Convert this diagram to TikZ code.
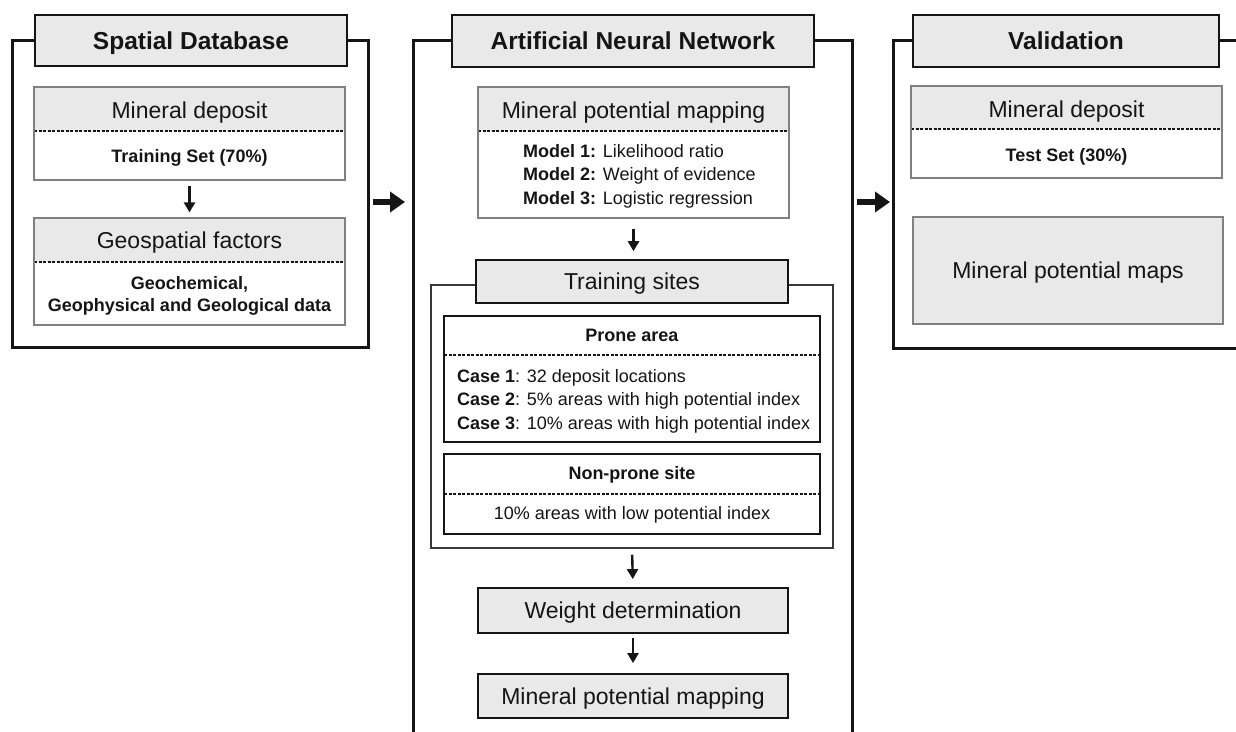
\documentclass[tikz,border=0pt]{standalone}
\usepackage{fontspec}
\setmainfont{Liberation Sans}
\usetikzlibrary{arrows.meta,fit}
\definecolor{boxgray}{HTML}{E9E9E9}
\definecolor{edgegray}{HTML}{808080}
\definecolor{ink}{HTML}{151515}
\newcommand\dualbox[8]{% name, style, x1, y1, x2, y2, ydash, topfill
  \fill[white] (#3,#4) rectangle (#5,#6);
  \fill[#8] (#3,#4) rectangle (#5,#7);
  \draw[sepline] (#3,#7) -- (#5,#7);
  \node[#2, fit={(#3,#4) (#5,#6)}] (#1) {};}
\begin{document}
\begin{tikzpicture}[x=1pt,y=-1pt,
  frame/.style={draw=ink, line width=3pt, inner sep=0pt},
  subframe/.style={draw=ink!85, line width=1.5pt, inner sep=0pt},
  titlebox/.style={draw=ink, line width=2.5pt, fill=boxgray, inner sep=0pt},
  thinbox/.style={draw=edgegray, line width=1.2pt, inner sep=0pt},
  darkbox/.style={draw=ink, line width=1.8pt, inner sep=0pt},
  graybox/.style={draw=ink, line width=1.8pt, fill=boxgray, inner sep=0pt},
  sepline/.style={ink, line width=1.4pt, dash pattern=on 3pt off 1.5pt},
  ttl/.style={font=\fontsize{24.5}{28}\selectfont\bfseries, text=ink, inner sep=0pt, text height=17.5pt, text depth=0pt},
  head/.style={font=\fontsize{23}{27}\selectfont, text=ink, inner sep=0pt, text height=16.5pt, text depth=0pt},
  small/.style={font=\fontsize{18}{23.5}\selectfont, text=ink, inner sep=0pt},
  smallc/.style={small, text height=12.9pt, text depth=0pt},
  arr/.style={draw=ink, line width=2.4pt, -{Triangle[length=10pt,width=11pt]}},
  bigarr/.style={draw=ink, line width=6pt, -{Triangle[length=15pt,width=20pt]}}
]
\useasboundingbox (0,0) rectangle (1236,731);
\clip (0,0) rectangle (1236,731);
\fill[white] (0,0) rectangle (1236,731);

% ---------------- Left panel ----------------
\node[frame, fit={(12,40) (368,347)}] (sdF) {};
\node[titlebox, fit={(35,15) (347,66)}] (sdT) {};
\node[ttl] (sdTt) at (sdT.center) {Spatial Database};

\dualbox{md1}{thinbox}{34}{87}{345}{180}{131}{boxgray}
\node[head] (md1t) at (189.5,110) {Mineral deposit};
\node[smallc, font=\fontsize{18}{23.5}\selectfont\bfseries] (md1s) at (189.5,156) {Training Set (70\%)};

\dualbox{gf}{thinbox}{34}{218}{345}{325}{262}{boxgray}
\node[head] (gft) at (189.5,240) {Geospatial factors};
\node[small, font=\fontsize{18}{22}\selectfont\bfseries, align=center, anchor=base] (gfs) at (189.5,311.4) {Geochemical,\\Geophysical and Geological data};

\draw[arr, shorten <=5pt, shorten >=5pt] (md1.south) -- (gf.north);

% ---------------- Middle panel ----------------
\node[frame, fit={(413,40) (852,760)}] (annF) {};
\node[titlebox, fit={(452,15) (814,67)}] (annT) {};
\node[ttl] (annTt) at (annT.center) {Artificial Neural Network};

\dualbox{mpm}{thinbox}{478}{87}{789}{218}{131}{boxgray}
\node[head] (mpmt) at (633.5,110) {Mineral potential mapping};
\node[small, align=left, anchor=base west] (mpms) at (523,204.4)
  {\textbf{Model 1:} Likelihood ratio\\\textbf{Model 2:} Weight of evidence\\\textbf{Model 3:} Logistic regression};

\node[subframe, fit={(431,285) (833,548)}] (tsF) {};
\node[graybox, line width=1.6pt, fit={(476,260) (788,303)}] (tsT) {};
\node[head] (tsTt) at (tsT.center) {Training sites};

\draw[arr, shorten <=10pt, shorten >=8pt] (mpm.south) -- (mpm.south |- tsT.north);

\dualbox{prone}{darkbox}{444}{316}{820}{442}{355}{white}
\node[smallc, font=\fontsize{18}{23.5}\selectfont\bfseries] (pronet) at (632,335) {Prone area};
\node[small, align=left, anchor=base west] (pronec) at (457,429.4)
  {\textbf{Case 1}: 32 deposit locations\\\textbf{Case 2}: 5\% areas with high potential index\\\textbf{Case 3}: 10\% areas with high potential index};

\dualbox{nonp}{darkbox}{444}{454}{820}{534}{494}{white}
\node[smallc, font=\fontsize{18}{23.5}\selectfont\bfseries] (nonpt) at (632,473) {Non-prone site};
\node[smallc] (nonps) at (632,513) {10\% areas with low potential index};

\node[graybox, fit={(478,588) (788,633)}] (wd) {};
\node[head] (wdt) at (wd.center) {Weight determination};
\node[graybox, fit={(478,674) (788,718)}] (mpm2) {};
\node[head] (mpm2t) at (mpm2.center) {Mineral potential mapping};

\draw[arr, shorten <=6pt, shorten >=8pt] (tsF.south) -- (wd.north);
\draw[arr, shorten <=4pt, shorten >=10pt] (wd.south) -- (mpm2.north);

% ---------------- Right panel ----------------
\node[frame, fit={(893,40) (1262,348)}] (vF) {};
\node[titlebox, fit={(913,15) (1219,67)}] (vT) {};
\node[ttl] (vTt) at (vT.center) {Validation};

\dualbox{md2}{thinbox}{911}{86}{1222}{178}{129}{boxgray}
\node[head] (md2t) at (1066.5,109) {Mineral deposit};
\node[smallc, font=\fontsize{18}{23.5}\selectfont\bfseries] (md2s) at (1066.5,155) {Test Set (30\%)};

\node[thinbox, fill=boxgray, fit={(913,217) (1223,324)}] (maps) {};
\node[head] (mapst) at (maps.center) {Mineral potential maps};

% ---------------- Panel arrows ----------------
\coordinate (ay) at (0,202);
\draw[bigarr, shorten <=3.5pt, shorten >=6.5pt] (sdF.east |- ay) -- (annF.west |- ay);
\draw[bigarr, shorten <=3.5pt, shorten >=1.5pt] (annF.east |- ay) -- (vF.west |- ay);
\end{tikzpicture}
\end{document}
